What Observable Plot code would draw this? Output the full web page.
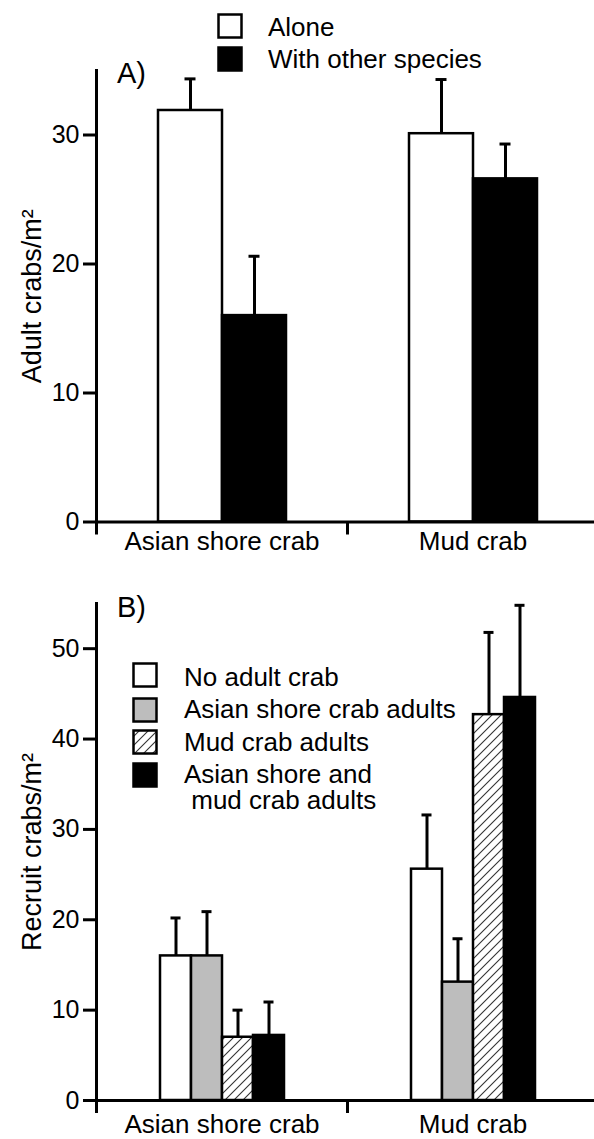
<!DOCTYPE html>
<html><head><meta charset="utf-8">
<script src="https://cdn.jsdelivr.net/npm/d3@7"></script>
<script src="https://cdn.jsdelivr.net/npm/@observablehq/plot@0.6"></script>
<style>
body{margin:0;background:#fff;font-family:"Liberation Sans",Arial,Helvetica,sans-serif;}
#wrap{position:relative;width:594px;height:1139px;overflow:hidden;}
#wrap svg.plot{display:block;}
.t{position:absolute;font-size:26px;line-height:26px;white-space:pre;color:#000;}
.pl{position:absolute;font-size:29px;line-height:29px;white-space:nowrap;color:#000;}
.sw{position:absolute;display:block;}
</style></head><body><div id="wrap"></div>
<script>
// ---------- data ----------
const categories = ["Asian shore crab", "Mud crab"];

const groupsA = ["Alone", "With other species"];
const adultAlone = [31.9, 30.1];
const adultAloneErr = [2.45, 4.2];
const adultWith = [16.0, 26.6];
const adultWithErr = [4.6, 2.7];
const ticksA = [0, 10, 20, 30];

const groupsB = ["No adult crab", "Asian shore crab adults", "Mud crab adults", "Asian shore and mud crab adults"];
const legendLabelsB = ["No adult crab", "Asian shore crab adults", "Mud crab adults", "Asian shore and\n mud crab adults"];
const recruitNone = [16.0, 25.6];
const recruitNoneErr = [4.2, 6.0];
const recruitAsian = [16.0, 13.1];
const recruitAsianErr = [4.9, 4.8];
const recruitMud = [7.0, 42.7];
const recruitMudErr = [3.0, 9.1];
const recruitBoth = [7.2, 44.6];
const recruitBothErr = [3.7, 10.2];
const ticksB = [0, 10, 20, 30, 40, 50];

const fillsA = ["#ffffff", "#000000"];
const fillsB = ["#ffffff", "#bdbdbd", "url(#hatchB)", "#000000"];

// ---------- helpers ----------
function rowsFrom(groups, series, errs) {
  return groups.flatMap((g, i) => categories.map((c, j) => ({cat: c, group: g, value: series[i][j], err: errs[i][j]})));
}

const FONT = "'Liberation Sans', Arial, Helvetica, sans-serif";
const LEFT = 96, RIGHT = 598;

function panel({rows, groups, fills, yDomain, ticks, label, height, marginTop, marginBottom, paddingOuter, capInset, catPadding}) {
  const bw = (RIGHT - LEFT) / categories.length;
  const svg = Plot.plot({
    width: 594,
    height,
    marginLeft: LEFT,
    marginRight: 0,
    marginTop,
    marginBottom,
    style: {fontFamily: FONT, fontSize: "25px", color: "#000", background: "transparent", overflow: "visible"},
    fx: {domain: categories, range: [LEFT, RIGHT], padding: 0, label: null, axis: null},
    x: {domain: groups, paddingInner: 0, paddingOuter, axis: null},
    y: {domain: yDomain, axis: null},
    color: {type: "ordinal", domain: groups, range: fills},
    marks: [
      Plot.barY(rows, {fx: "cat", x: "group", y: "value", fill: "group", stroke: "#000", strokeWidth: 2.5}),
      Plot.ruleX(rows, {fx: "cat", x: "group", y1: "value", y2: d => d.value + d.err, stroke: "#000", strokeWidth: 3}),
      Plot.tickY(rows, {fx: "cat", x: "group", y: d => d.value + d.err, stroke: "#000", strokeWidth: 3, insetLeft: capInset, insetRight: capInset}),
      Plot.ruleY([0], {stroke: "#000", strokeWidth: 3}),
      Plot.frame({anchor: "left", facetAnchor: "left", stroke: "#000", strokeWidth: 3}),
      Plot.axisY({ticks, tickSize: 13, tickPadding: 4, stroke: "#000", strokeWidth: 3, fontSize: 25, label: null}),
      Plot.text([label], {text: d => d, frameAnchor: "left", textAnchor: "middle", lineAnchor: "middle", rotate: -90, dx: -64, fontSize: 27, facetAnchor: "left", fill: "#000"}),
      Plot.axisFx({anchor: "bottom", tickSize: 0, tickPadding: catPadding, fontSize: 26, label: null}),
      Plot.axisFx({anchor: "bottom", tickSize: 13, fill: "none", dx: -bw / 2, stroke: "#000", strokeWidth: 3, label: null})
    ]
  });
  return svg;
}

const wrap = document.getElementById("wrap");

const svgA = panel({
  rows: rowsFrom(groupsA, [adultAlone, adultWith], [adultAloneErr, adultWithErr]),
  groups: groupsA, fills: fillsA, yDomain: [0, 35], ticks: ticksA,
  label: "Adult crabs/m²", height: 560, marginTop: 70, marginBottom: 38.5,
  paddingOuter: 0.96, capInset: 26.5, catPadding: 10
});
wrap.appendChild(svgA);

const svgB = panel({
  rows: rowsFrom(groupsB, [recruitNone, recruitAsian, recruitMud, recruitBoth], [recruitNoneErr, recruitAsianErr, recruitMudErr, recruitBothErr]),
  groups: groupsB, fills: fillsB, yDomain: [0, 55], ticks: ticksB,
  label: "Recruit crabs/m²", height: 579, marginTop: 43, marginBottom: 39,
  paddingOuter: 1.98, capInset: 10.5, catPadding: 14
});
// hatch pattern definition
d3.select(svgB).insert("defs", ":first-child").html(
  '<pattern id="hatchB" patternUnits="userSpaceOnUse" width="9" height="9">' +
  '<rect width="9" height="9" fill="#fff"/>' +
  '<path d="M0,9L9,0M-2,2L2,-2M7,11L11,7" stroke="#333" stroke-width="1.1"/></pattern>');
wrap.appendChild(svgB);

// ---------- panel letters & legends (HTML overlay) ----------
function addText(cls, txt, x, y) {
  const d = document.createElement("div");
  d.className = cls; d.textContent = txt;
  d.style.left = x + "px"; d.style.top = y + "px";
  wrap.appendChild(d);
}
function addSwatch(fill, x, y, hatch) {
  const s = d3.create("svg").attr("class", "sw").attr("width", 27).attr("height", 27)
    .style("left", x + "px").style("top", y + "px");
  if (hatch) {
    s.append("defs").html('<pattern id="hatchL" patternUnits="userSpaceOnUse" width="9" height="9">' +
      '<rect width="9" height="9" fill="#fff"/>' +
      '<path d="M0,9L9,0M-2,2L2,-2M7,11L11,7" stroke="#333" stroke-width="1.1"/></pattern>');
  }
  s.append("rect").attr("x", 1.5).attr("y", 1.5).attr("width", 23).attr("height", 23)
    .attr("fill", hatch ? "url(#hatchL)" : fill).attr("stroke", "#000").attr("stroke-width", 2.5);
  wrap.appendChild(s.node());
}

addText("pl", "A)", 117, 58.5);
addText("pl", "B)", 117, 592.5);

groupsA.forEach((g, i) => {
  addSwatch(fillsA[i], 217, 13 + i * 33, false);
  addText("t", g, 268, 14 + i * 32);
});

const legendBSwatchY = [662, 697, 729, 762];
const legendBTextY = [664, 696, 729, 761];
groupsB.forEach((g, i) => {
  addSwatch(fillsB[i], 132, legendBSwatchY[i], i === 2);
  addText("t", legendLabelsB[i], 184, legendBTextY[i]);
});
</script></body></html>
